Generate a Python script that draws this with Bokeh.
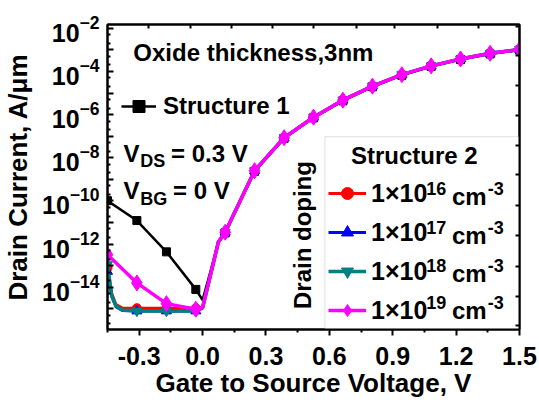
import numpy as np
from bokeh.plotting import figure
from bokeh.models import (FixedTicker, LinearAxis, LogAxis, Legend, LegendItem,
                          Label, BoxAnnotation, NumeralTickFormatter,
                          CustomJSTickFormatter)
from bokeh.embed import file_html
from bokeh.resources import INLINE

# ---------------- data (log10 of drain current, A/um) ----------------
marker_vgs = [-0.45, -0.311, -0.171, -0.032, 0.107, 0.246, 0.386, 0.525,
              0.664, 0.804, 0.943, 1.082, 1.221, 1.361, 1.5]

# Structure 1 (black squares)
s1_line_vgs = [-0.45, -0.311, -0.171, -0.032, 0.0, 0.075, 0.107, 0.246, 0.386,
               0.525, 0.664, 0.804, 0.943, 1.082, 1.221, 1.361, 1.5]
s1_line_log = [-9.99, -10.91, -12.36, -14.10, -14.59, -11.93, -11.48, -8.63, -7.10,
               -6.15, -5.36, -4.71, -4.18, -3.77, -3.45, -3.19, -3.01]
s1_mark_log = [-9.99, -10.91, -12.36, -14.10, -11.48, -8.63, -7.10, -6.15,
               -5.36, -4.71, -4.18, -3.77, -3.45, -3.19, -3.01]

# Structure 2, drain doping series
s2_line_vgs = [-0.45, -0.43, -0.41, -0.38, -0.311, -0.171, -0.032, 0.0, 0.075,
               0.107, 0.246, 0.386, 0.525, 0.664, 0.804, 0.943, 1.082, 1.221,
               1.361, 1.5]
d16_line_log = [-13.10, -14.30, -14.80, -14.97, -14.97, -14.97, -14.97, -14.94, -11.90,
                -11.45, -8.60, -7.07, -6.12, -5.33, -4.68, -4.15, -3.74, -3.42,
                -3.16, -2.98]
d17_line_log = [-13.27, -14.40, -14.90, -15.08, -15.10, -15.10, -15.10, -14.96, -11.90,
                -11.45, -8.60, -7.07, -6.12, -5.33, -4.68, -4.15, -3.74, -3.42,
                -3.16, -2.98]
d18_line_log = [-12.95, -14.41, -14.87, -15.05, -15.10, -15.10, -15.10, -14.97, -11.90,
                -11.45, -8.60, -7.07, -6.12, -5.33, -4.68, -4.15, -3.74, -3.42,
                -3.16, -2.98]
d19_line_vgs = [-0.45, -0.311, -0.171, -0.032, 0.0, 0.075, 0.107, 0.246, 0.386,
                0.525, 0.664, 0.804, 0.943, 1.082, 1.221, 1.361, 1.5]
d19_line_log = [-12.49, -13.80, -14.76, -15.02, -14.94, -11.90, -11.45, -8.60, -7.07,
                -6.12, -5.33, -4.68, -4.15, -3.74, -3.42, -3.16, -2.98]

d16_mark_log = [-13.10, -14.97, -14.97, -14.97, -11.45, -8.60, -7.07, -6.12,
                -5.33, -4.68, -4.15, -3.74, -3.42, -3.16, -2.98]
d17_mark_log = [-13.27, -15.10, -15.10, -15.10, -11.45, -8.60, -7.07, -6.12,
                -5.33, -4.68, -4.15, -3.74, -3.42, -3.16, -2.98]
d18_mark_log = [-12.95, -15.10, -15.10, -15.10, -11.45, -8.60, -7.07, -6.12,
                -5.33, -4.68, -4.15, -3.74, -3.42, -3.16, -2.98]
d19_mark_log = [-12.49, -13.80, -14.76, -15.02, -11.45, -8.60, -7.07, -6.12,
                -5.33, -4.68, -4.15, -3.74, -3.42, -3.16, -2.98]

x_ticks = [-0.3, 0.0, 0.3, 0.6, 0.9, 1.2, 1.5]
x_minor = [-0.45, -0.15, 0.15, 0.45, 0.75, 1.05, 1.35]
y_exps = list(range(-2, -17, -1))
doping_exps = ["16", "17", "18", "19"]

def cur(a):
    return list(np.power(10.0, np.array(a)))

X0, X1 = -0.45, 1.5
Y0, Y1 = 1.1e-16, 1.5e-2
FONT = "Liberation Sans"

p = figure(width=539, height=400, x_range=(X0, X1), y_range=(Y0, Y1),
           y_axis_type="log", output_backend="svg", toolbar_location=None,
           min_border_left=104, min_border_right=20, min_border_top=24,
           min_border_bottom=66)
p.grid.visible = False
p.outline_line_color = "black"
p.outline_line_width = 2
p.background_fill_color = "white"
p.border_fill_color = "white"

# frame-pixel helpers for annotation placement (frame 104..519 x 24..334)
FL, FR, FT, FB = 104, 519, 24, 334
def px2x(px):
    return X0 + (px - FL) / (FR - FL) * (X1 - X0)
def py2y(py):
    l1, l0 = np.log10(Y1), np.log10(Y0)
    return float(10 ** (l1 - (py - FT) / (FB - FT) * (l1 - l0)))

# ---------------- axes ----------------
xa = p.xaxis[0]
xa.ticker = FixedTicker(ticks=x_ticks, minor_ticks=x_minor)
xa.formatter = NumeralTickFormatter(format="0.0")
xa.major_tick_in = 0
xa.major_tick_out = 6
xa.minor_tick_in = 0
xa.minor_tick_out = 3
xa.axis_line_width = 2
xa.major_tick_line_width = 2
xa.minor_tick_line_width = 2
xa.major_label_text_font = FONT
xa.major_label_text_font_style = "bold"
xa.major_label_text_font_size = "25px"
xa.major_label_text_color = "black"
xa.major_label_standoff = 11
xa.axis_label = "Gate to Source Voltage, V"
xa.axis_label_text_font = FONT
xa.axis_label_text_font_style = "bold"
xa.axis_label_text_font_size = "26px"
xa.axis_label_text_color = "black"
xa.axis_label_standoff = 0

ya = p.yaxis[0]
yticks = [float("1e%d" % e) for e in y_exps]
yminor = []
for e in y_exps:
    yminor += [2 * 10.0 ** e, 5 * 10.0 ** e]
ya.ticker = FixedTicker(ticks=yticks, minor_ticks=yminor)
ya.major_label_overrides = {float("1e%d" % e): "" for e in y_exps if e % 2 != 0}
ya.major_tick_in = 6
ya.major_tick_out = 0
ya.minor_tick_in = 3
ya.minor_tick_out = 0
ya.axis_line_width = 2
ya.major_tick_line_width = 2
ya.minor_tick_line_width = 2
ya.major_label_text_font = FONT
ya.major_label_text_font_style = "bold"
ya.major_label_text_font_size = "25px"
ya.major_label_text_color = "black"
ya.major_label_standoff = 8
ya.axis_label = "Drain Current, A/μm"
ya.axis_label_text_font = FONT
ya.axis_label_text_font_style = "bold"
ya.axis_label_text_font_size = "26px"
ya.axis_label_text_color = "black"
ya.axis_label_standoff = 6

blank = CustomJSTickFormatter(code="return ''")
top_ticks = [-0.254, -0.059, 0.135, 0.331, 0.527, 0.73, 0.909, 1.112, 1.306]
right_ticks = [10 ** v for v in [-1.915, -3.283, -4.651, -6.051, -7.419, -8.787,
                                 -10.214, -11.582, -13.041, -14.409, -15.777]]
ta = LinearAxis(ticker=FixedTicker(ticks=top_ticks), formatter=blank,
                major_tick_in=4, major_tick_out=0,
                minor_tick_in=0, minor_tick_out=0, axis_line_width=2,
                major_tick_line_width=2, major_label_text_font_size="8px",
                major_label_standoff=0)
ra = LogAxis(ticker=FixedTicker(ticks=right_ticks), formatter=blank,
             major_tick_in=4, major_tick_out=0,
             minor_tick_in=0, minor_tick_out=0, axis_line_width=2,
             major_tick_line_width=2, major_label_text_font_size="8px",
             major_label_standoff=0)
p.add_layout(ta, "above")
p.add_layout(ra, "right")

# ---------------- legend box (Structure 2) ----------------
box = BoxAnnotation(left=px2x(323), top=py2y(138), fill_color="white", fill_alpha=1,
                    line_color="#9a9a9a", line_width=1, level="underlay")
p.add_layout(box)

# ---------------- curves ----------------
r1l = p.line(s1_line_vgs, cur(s1_line_log), line_color="black", line_width=2.5)
r1m = p.scatter(marker_vgs, cur(s1_mark_log), marker="square", size=8,
                fill_color="black", line_color="black")

series = [
    (s2_line_vgs, d16_line_log, d16_mark_log, "#FF0000", "circle", 9, 3),
    (s2_line_vgs, d17_line_log, d17_mark_log, "#0000FF", "triangle", 10, 3),
    (s2_line_vgs, d18_line_log, d18_mark_log, "#008080", "inverted_triangle", 10, 3.5),
    (d19_line_vgs, d19_line_log, d19_mark_log, "#FF00FF", "diamond", 16, 3.5),
]
items = []
for (lx, ll, ml, col, mk, sz, lw) in series:
    rl = p.line(lx, cur(ll), line_color=col, line_width=lw)
    rm = p.scatter(marker_vgs, cur(ml), marker=mk, size=sz,
                   fill_color=col, line_color=col)
    items.append(LegendItem(label="1×10", renderers=[rl, rm]))

leg2 = Legend(items=items, location=(221, 4), orientation="vertical",
              padding=0, margin=0, spacing=9, glyph_width=38, glyph_height=30,
              label_height=30, label_standoff=5, label_width=140,
              label_text_font=FONT, label_text_font_style="bold",
              label_text_color="black",
              label_text_font_size="25px", label_text_baseline="middle",
              border_line_alpha=0, background_fill_alpha=0)
p.add_layout(leg2)

leg1 = Legend(items=[LegendItem(label="Structure 1", renderers=[r1l, r1m])],
              location=(14, 208), padding=0, margin=0, glyph_width=35,
              glyph_height=30, label_height=30, label_standoff=7,
              label_text_font=FONT, label_text_font_style="bold",
              label_text_color="black",
              label_text_font_size="24px", label_text_baseline="middle",
              border_line_alpha=0, background_fill_alpha=0)
p.add_layout(leg1)

# ---------------- text annotations ----------------
def lab(text, px, py, size="24px", align="left", angle=0.0):
    p.add_layout(Label(x=px2x(px), y=py2y(py), text=text, text_font=FONT,
                       text_font_style="bold", text_font_size=size,
                       text_align=align, text_baseline="middle", angle=angle,
                       text_color="black"))

lab("Oxide thickness,3nm", 130, 52)
lab("V", 120, 155)
lab("DS", 137, 163, size="18px")
lab("= 0.3 V", 168, 155)
lab("V", 120, 193)
lab("BG", 137, 201, size="18px")
lab("= 0 V", 170, 193)
lab("Structure 2", 413, 157, align="center")
lab("Drain doping", 300, 238, align="center", angle=np.pi / 2)

# superscripts / units of the Structure 2 legend entries
row_py = [199, 238, 277, 315]
for ex, ry in zip(doping_exps, row_py):
    lab(ex, 425, ry - 8, size="18px")
    lab("cm", 451, ry)
    lab("-3", 487, ry - 8, size="18px")

open("out.html", "w").write(file_html(p, INLINE))
